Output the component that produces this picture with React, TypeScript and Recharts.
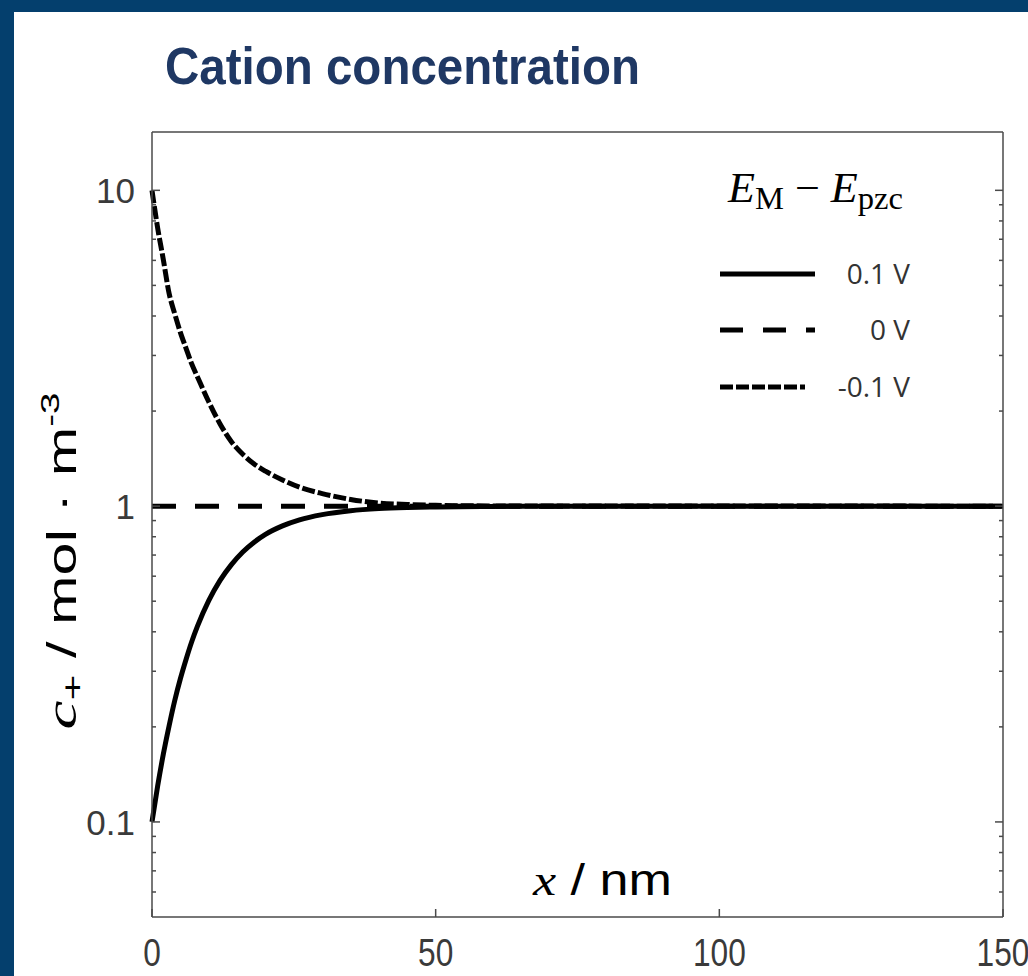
import React from 'react';
import { LineChart, Line, XAxis, YAxis } from 'recharts';

// ---- data ----
const xTicks = [0, 50, 100, 150];
const yMajorTicks = [0.1, 1, 10];
const yMinorTicks = [0.06, 0.07, 0.08, 0.09, 0.2, 0.3, 0.4, 0.5, 0.6, 0.7, 0.8, 0.9, 2, 3, 4, 5, 6, 7, 8, 9];
const yTickLabels = ['0.1', '1', '10'];

// E_M - E_pzc = 0.1 V (solid)
const xPos = [0, 1, 2, 3, 4, 5, 6, 7, 8, 10, 12, 14, 16, 18, 20, 23, 26, 30, 35, 40, 45, 50, 60, 70, 150];
const cPos = [0.1, 0.13, 0.164, 0.201, 0.242, 0.284, 0.327, 0.372, 0.416, 0.502, 0.582, 0.653, 0.716, 0.769, 0.814, 0.866, 0.905, 0.94, 0.967, 0.982, 0.99, 0.9945, 0.998, 0.9995, 1];

// E_M - E_pzc = 0 V (dashed)
const xZero = [0, 150];
const cZero = [1, 1];

// E_M - E_pzc = -0.1 V (dash-dot)
const xNeg = [0, 1, 2, 3, 4, 5, 6, 7, 8, 10, 12, 14, 16, 18, 20, 23, 26, 30, 35, 40, 45, 50, 60, 70, 150];
const cNeg = [10, 7.59, 6.03, 4.73, 4.07, 3.55, 3.16, 2.82, 2.57, 2.14, 1.82, 1.6, 1.46, 1.36, 1.29, 1.21, 1.148, 1.096, 1.05, 1.023, 1.012, 1.006, 1.0016, 1.0004, 1];

const seriesNames = ['0.1 V', '0 V', '-0.1 V'];

const toPoints = (xs: number[], ys: number[]) => xs.map((x, i) => ({ x, c: ys[i] }));

const AXIS = '#4a4a4a';
const BLUE = '#043f6d';
const SANS = '"Liberation Sans", Arial, sans-serif';
const SERIF = '"Liberation Serif", "Times New Roman", serif';

const series = [
  { name: seriesNames[0], data: toPoints(xPos, cPos), dash: undefined as string | undefined, legendDash: undefined as string | undefined },
  { name: seriesNames[1], data: toPoints(xZero, cZero), dash: '24 19', legendDash: '23 20' },
  { name: seriesNames[2], data: toPoints(xNeg, cNeg), dash: '13 3', legendDash: '13 3' },
];

const yTicksAll = [...yMinorTicks, ...yMajorTicks].sort((a, b) => a - b);

const labelFor = (v: number) => {
  const i = yMajorTicks.indexOf(v);
  return i >= 0 ? yTickLabels[i] : null;
};

const LeftTick = (props: any) => {
  const { x, y, payload } = props;
  const lab = labelFor(payload.value);
  const len = lab ? 8 : 4;
  return (
    <g>
      <line x1={x} x2={x + len} y1={y} y2={y} stroke={AXIS} strokeWidth={1.5} />
      {lab && (
        <text x={x - 17} y={y} dy="0.36em" textAnchor="end" fontSize={35} fill="#3a3a3a" fontFamily={SANS}>
          {lab}
        </text>
      )}
    </g>
  );
};

const RightTick = (props: any) => {
  const { x, y, payload } = props;
  const lab = labelFor(payload.value);
  const len = lab ? 8 : 4;
  return <line x1={x} x2={x - len} y1={y} y2={y} stroke={AXIS} strokeWidth={1.5} />;
};

const BottomTick = (props: any) => {
  const { x, y, payload } = props;
  return (
    <g>
      <line x1={x} x2={x} y1={y} y2={y - 8} stroke={AXIS} strokeWidth={1.5} />
      <text
        transform={`translate(${x},${y + 49}) scale(0.88,1.08)`}
        textAnchor="middle"
        fontSize={36}
        fill="#3a3a3a"
        fontFamily={SANS}
      >
        {String(payload.value)}
      </text>
    </g>
  );
};

const TopTick = (props: any) => {
  const { x, y } = props;
  return <line x1={x} x2={x} y1={y} y2={y + 8} stroke={AXIS} strokeWidth={1.5} />;
};

const axisLine = { stroke: AXIS, strokeWidth: 1.5 };

export default function App() {
  return (
    <div style={{ position: 'absolute', left: 0, top: 0, width: 1028, height: 976, background: '#fff', overflow: 'hidden' }}>
      <div style={{ position: 'absolute', left: 0, top: 0, width: 1028, height: 12, background: BLUE }} />
      <div style={{ position: 'absolute', left: 0, top: 0, width: 14, height: 976, background: BLUE }} />
      <div style={{ position: 'absolute', left: 0, top: 0 }}>
        <LineChart width={1028} height={976} margin={{ top: 122, right: 15, bottom: 9, left: 92 }}>
          <XAxis
            xAxisId="b"
            type="number"
            dataKey="x"
            domain={[0, 150]}
            ticks={xTicks}
            interval={0}
            height={50}
            tickSize={0}
            tickMargin={0}
            tickLine={false}
            axisLine={axisLine}
            tick={(p: any) => <BottomTick {...p} />}
          />
          <XAxis
            xAxisId="t"
            orientation="top"
            type="number"
            dataKey="x"
            domain={[0, 150]}
            ticks={xTicks}
            interval={0}
            height={10}
            tickSize={0}
            tickMargin={0}
            tickLine={false}
            axisLine={axisLine}
            tick={(p: any) => <TopTick {...p} />}
          />
          <YAxis
            yAxisId="l"
            type="number"
            scale="log"
            domain={[0.05, 15.3]}
            allowDataOverflow
            ticks={yTicksAll}
            interval={0}
            width={60}
            tickSize={0}
            tickMargin={0}
            tickLine={false}
            axisLine={axisLine}
            tick={(p: any) => <LeftTick {...p} />}
          />
          <YAxis
            yAxisId="r"
            orientation="right"
            type="number"
            scale="log"
            domain={[0.05, 15.3]}
            allowDataOverflow
            ticks={yTicksAll}
            interval={0}
            width={10}
            tickSize={0}
            tickMargin={0}
            tickLine={false}
            axisLine={axisLine}
            tick={(p: any) => <RightTick {...p} />}
          />
          <Line
            xAxisId="b"
            yAxisId="l"
            data={series[1].data}
            dataKey="c"
            name={series[1].name}
            stroke="#000"
            strokeWidth={5}
            strokeDasharray={series[1].dash}
            dot={false}
            activeDot={false}
            type="linear"
            isAnimationActive={false}
          />
          <Line
            xAxisId="b"
            yAxisId="l"
            data={series[0].data}
            dataKey="c"
            name={series[0].name}
            stroke="#000"
            strokeWidth={5}
            dot={false}
            activeDot={false}
            type="monotone"
            isAnimationActive={false}
          />
          <Line
            xAxisId="b"
            yAxisId="l"
            data={series[2].data}
            dataKey="c"
            name={series[2].name}
            stroke="#000"
            strokeWidth={5}
            strokeDasharray={series[2].dash}
            dot={false}
            activeDot={false}
            type="monotone"
            isAnimationActive={false}
          />
        </LineChart>
      </div>
      <svg width={1028} height={976} style={{ position: 'absolute', left: 0, top: 0, pointerEvents: 'none' }}>
        <text
          x={165}
          y={84}
          fontSize={52}
          fontWeight="bold"
          fill="#1f3864"
          fontFamily={SANS}
          textLength={475}
          lengthAdjust="spacingAndGlyphs"
        >
          Cation concentration
        </text>
        <text
          transform="translate(76,561) rotate(-90)"
          textAnchor="middle"
          fontSize={40}
          fill="#000"
          fontFamily={SANS}
          textLength={337}
          lengthAdjust="spacingAndGlyphs"
        >
          <tspan fontFamily={SERIF} fontStyle="italic" fontSize={44}>c</tspan>
          <tspan fontSize={30} dy={7}>+</tspan>
          <tspan dy={-7}> / mol · m</tspan>
          <tspan fontSize={26} dy={-17}>-3</tspan>
        </text>
        <text x={533} y={895} fontSize={44} fill="#000" fontFamily={SANS} textLength={139} lengthAdjust="spacingAndGlyphs">
          <tspan fontFamily={SERIF} fontStyle="italic">x</tspan>
          <tspan> / nm</tspan>
        </text>
        <text x={728} y={202} fontSize={42} fill="#000" fontFamily={SERIF} textLength={175} lengthAdjust="spacingAndGlyphs">
          <tspan fontStyle="italic">E</tspan>
          <tspan fontSize={31} dy={7}>M</tspan>
          <tspan dy={-7}> − </tspan>
          <tspan fontStyle="italic">E</tspan>
          <tspan fontSize={31} dy={7}>pzc</tspan>
        </text>
        {series.map((s, i) => {
          const yc = [274, 330, 387][i];
          return (
            <g key={s.name}>
              <line x1={720} x2={815 - (i === 2 ? 10 : 0)} y1={yc} y2={yc} stroke="#000" strokeWidth={5} strokeDasharray={s.legendDash} />
              <text x={910} y={yc} dy="0.36em" textAnchor="end" fontSize={28} fill="#333" fontFamily='"Open Sans", "Noto Sans", sans-serif'>
                {s.name}
              </text>
            </g>
          );
        })}
      </svg>
    </div>
  );
}
